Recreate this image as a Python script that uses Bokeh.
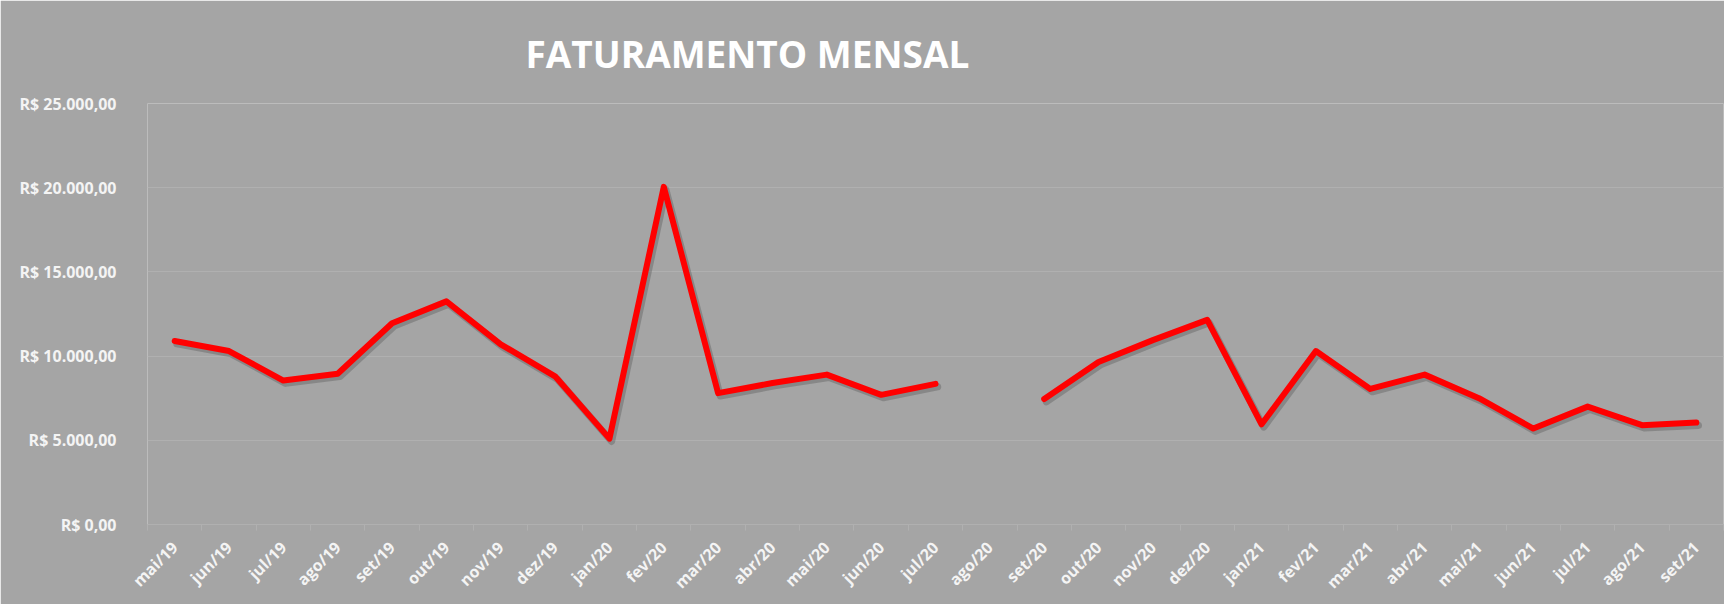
import math
from bokeh.plotting import figure
from bokeh.models import Range1d, FixedTicker, Title
from bokeh.embed import file_html
from bokeh.resources import INLINE

# ---- data ----
months = ["mai/19", "jun/19", "jul/19", "ago/19", "set/19", "out/19", "nov/19", "dez/19",
          "jan/20", "fev/20", "mar/20", "abr/20", "mai/20", "jun/20", "jul/20", "ago/20",
          "set/20", "out/20", "nov/20", "dez/20",
          "jan/21", "fev/21", "mar/21", "abr/21", "mai/21", "jun/21", "jul/21", "ago/21", "set/21"]
revenue = [10900, 10300, 8550, 8950, 11950, 13250, 10700, 8800,
           5100, 20050, 7800, 8400, 8900, 7700, 8350, float("nan"),
           7450, 9650, 10950, 12150,
           5950, 10300, 8050, 8900, 7500, 5700, 7000, 5900, 6050]
y_ticks = [0, 5000, 10000, 15000, 20000, 25000]
y_tick_labels = ["R$ 0,00", "R$ 5.000,00", "R$ 10.000,00", "R$ 15.000,00", "R$ 20.000,00", "R$ 25.000,00"]
title_text = "FATURAMENTO MENSAL"

BG = "#a5a5a5"
GRID = "#b0b0b0"
FONT = "Open Sans"

n = len(months)
xs = list(range(n))

p = figure(width=1724, height=604, output_backend="svg", toolbar_location=None,
           x_range=Range1d(-0.5, n - 0.5), y_range=Range1d(y_ticks[0], y_ticks[-1]),
           min_border_left=147, min_border_right=1, min_border_top=102, min_border_bottom=80)
p.background_fill_color = BG
p.border_fill_color = BG
p.outline_line_color = None

title = Title(text=title_text, align="left", offset=378, standoff=50,
              text_font=FONT, text_font_size="37px", text_font_style="bold",
              text_color="white")
p.add_layout(title, "above")

# x axis
p.xaxis.ticker = FixedTicker(ticks=xs, minor_ticks=[i - 0.5 for i in range(n + 1)])
p.xaxis.major_label_overrides = {i: m for i, m in enumerate(months)}
p.xaxis.major_label_orientation = math.pi / 4
p.xaxis.major_label_text_font = FONT
p.xaxis.major_label_text_font_style = "bold"
p.xaxis.major_label_text_font_size = "16px"
p.xaxis.major_label_text_color = "#f4f4f4"
p.xaxis.major_label_standoff = 14
p.xaxis.axis_line_color = GRID
p.xaxis.major_tick_line_color = None
p.xaxis.minor_tick_line_color = GRID
p.xaxis.minor_tick_out = 6
p.xaxis.minor_tick_in = 0

# y axis
p.yaxis.ticker = FixedTicker(ticks=y_ticks, minor_ticks=[])
p.yaxis.major_label_overrides = {t: l for t, l in zip(y_ticks, y_tick_labels)}
p.yaxis.major_label_text_font = FONT
p.yaxis.major_label_text_font_style = "bold"
p.yaxis.major_label_text_font_size = "16px"
p.yaxis.major_label_text_color = "#f4f4f4"
p.yaxis.major_label_standoff = 25
p.yaxis.axis_line_color = None
p.yaxis.major_tick_line_color = None
p.yaxis.minor_tick_line_color = None

p.xgrid.grid_line_color = None
p.ygrid.grid_line_color = GRID
p.ygrid.ticker = FixedTicker(ticks=y_ticks)

# soft shadow (derived from the same series, shifted a few pixels)
shadow_dx = 0.04
shadow_dy = -170
p.line([x + shadow_dx for x in xs], [v + shadow_dy for v in revenue],
       line_color="#505050", line_alpha=0.35, line_width=7,
       line_join="round", line_cap="round")

p.line(xs, revenue, line_color="#ff0000", line_width=6,
       line_join="round", line_cap="round")

open("out.html", "w").write(file_html(p, INLINE))
